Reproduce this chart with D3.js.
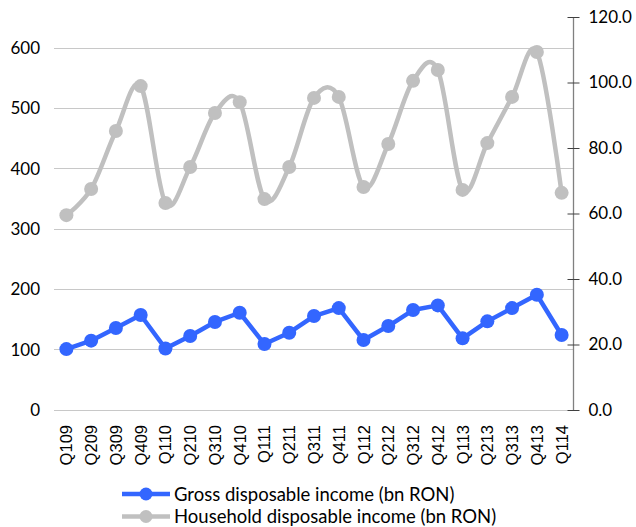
<!DOCTYPE html>
<html><head><meta charset="utf-8">
<script src="https://cdn.jsdelivr.net/npm/d3@7"></script>
<style>body{margin:0;background:#fff}svg{display:block}</style>
</head><body><svg id="c" width="636" height="527"></svg>
<script>
const quarters = ["Q109","Q209","Q309","Q409","Q110","Q210","Q310","Q410","Q111","Q211","Q311","Q411","Q112","Q212","Q312","Q412","Q113","Q213","Q313","Q413","Q114"];
const grossIncome = [101,115,136,157.5,102,122.7,146,161.3,109.4,128.2,155.8,169,116,139.2,165.8,173.5,118.8,147,169,191.1,124.3];
const householdIncome = [59.5,67.5,85.2,98.9,63.2,74.2,90.7,94.0,64.4,74.2,95.3,95.6,68.1,81.2,100.5,103.8,67.2,81.5,95.6,109.3,66.3];
const leftTicks = [0,100,200,300,400,500,600];
const rightTicks = [0,20,40,60,80,100,120];
const legendLabels = ["Gross disposable income (bn RON)","Household disposable income (bn RON)"];

const svg = d3.select("#c");
const blue = "#3366ff", gray = "#c0c0c0";
const x = d3.scaleBand().domain(quarters).range([54,574]);
const xc = d => x(d) + x.bandwidth()/2;
const yL = d3.scaleLinear().domain([0,600]).range([410,48.2]);
const yR = d3.scaleLinear().domain([0,120]).range([410,17]);

// gridlines
svg.append("g").selectAll("line").data(leftTicks).join("line")
  .attr("x1",54).attr("x2",573).attr("y1",d=>yL(d)).attr("y2",d=>yL(d))
  .attr("stroke","#c8c8c8").attr("stroke-width",1).attr("shape-rendering","crispEdges");

// left axis labels
const gl = svg.append("g").attr("transform","translate(54,0)")
  .call(d3.axisLeft(yL).tickValues(leftTicks).tickSize(0).tickPadding(14).tickFormat(d3.format("d")));
gl.select(".domain").remove();
gl.selectAll("text").attr("font-family","Lato, 'Open Sans', sans-serif").attr("font-size",17).attr("fill","#000");

// right axis
const gr = svg.append("g").attr("transform","translate(573.5,0)")
  .call(d3.axisRight(yR).tickValues(rightTicks).tickSize(6).tickPadding(9).tickFormat(d3.format(".1f")));
gr.select(".domain").attr("stroke","#808080").attr("stroke-width",1.3).attr("d","M0,17V410");
gr.selectAll(".tick line").attr("x1",-6).attr("x2",6).attr("stroke","#404040");
gr.selectAll("text").attr("font-family","Lato, 'Open Sans', sans-serif").attr("font-size",17).attr("fill","#000");

// x labels
svg.append("g").selectAll("text").data(quarters).join("text")
  .attr("transform",d=>`translate(${xc(d)+6},425) rotate(-90)`)
  .attr("text-anchor","end").attr("font-family","'Liberation Sans', Arial, sans-serif")
  .attr("font-size",16.5).attr("fill","#000").text(d=>d);

// household line (right axis), smoothed
const lineH = d3.line().x((d,i)=>xc(quarters[i])).y(d=>yR(d)).curve(d3.curveCardinal.tension(0));
svg.append("path").datum(householdIncome).attr("d",lineH)
  .attr("fill","none").attr("stroke",gray).attr("stroke-width",4.5).attr("stroke-linejoin","round");
svg.append("g").selectAll("circle").data(householdIncome).join("circle")
  .attr("cx",(d,i)=>xc(quarters[i])).attr("cy",d=>yR(d)).attr("r",7).attr("fill",gray);

// gross line (left axis)
const lineG = d3.line().x((d,i)=>xc(quarters[i])).y(d=>yL(d));
svg.append("path").datum(grossIncome).attr("d",lineG)
  .attr("fill","none").attr("stroke",blue).attr("stroke-width",4.5).attr("stroke-linejoin","round");
svg.append("g").selectAll("circle").data(grossIncome).join("circle")
  .attr("cx",(d,i)=>xc(quarters[i])).attr("cy",d=>yL(d)).attr("r",7).attr("fill",blue);

// legend
const lg = svg.append("g");
[[blue,494],[gray,516.5]].forEach(([c,y],i)=>{
  lg.append("line").attr("x1",122).attr("x2",170).attr("y1",y).attr("y2",y).attr("stroke",c).attr("stroke-width",4.5);
  lg.append("circle").attr("cx",146).attr("cy",y).attr("r",6.5).attr("fill",c);
  lg.append("text").attr("x",174).attr("y",y).attr("dy","0.36em")
    .attr("font-family","Lato, 'Open Sans', sans-serif").attr("font-size",18.5).attr("fill","#000").text(legendLabels[i]);
});
</script></body></html>
